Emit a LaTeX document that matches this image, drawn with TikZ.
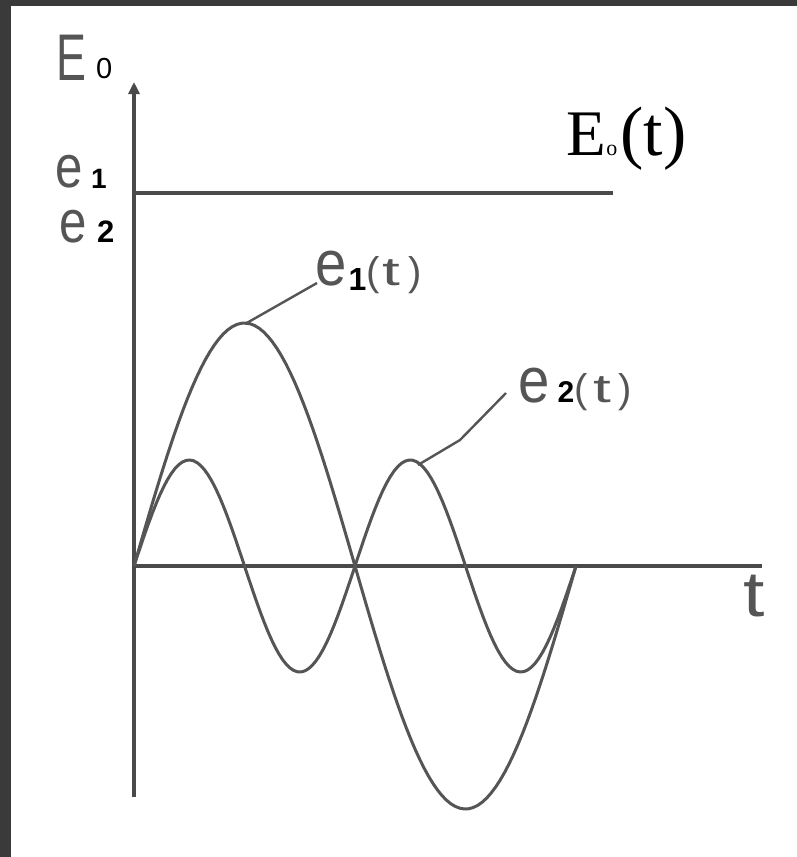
\documentclass[tikz,border=0pt]{standalone}
\usepackage{fontspec}
\usepackage{graphicx}
\setmainfont{Liberation Serif}
\newfontfamily\lsans{Liberation Sans}
\usetikzlibrary{arrows.meta}
\definecolor{frame}{HTML}{3A3A3A}
\definecolor{ink}{HTML}{4A4A4A}
\definecolor{soft}{HTML}{555555}
\begin{document}
\begin{tikzpicture}[x=1pt,y=-1pt,
  axis/.style={draw=ink,line width=3.6pt},
  wave/.style={draw=soft,line width=3pt,line join=round},
  leader/.style={draw=soft,line width=2.4pt},
  lbl/.style={inner sep=0pt,anchor=base west,text=soft,font=\lsans}]
\useasboundingbox (0,0) rectangle (797,857);
\fill[white] (0,0) rectangle (797,857);
\fill[frame] (0,0) rectangle (11,857);
\fill[frame] (0,0) rectangle (797,6);
% axes
\coordinate (O) at (134,566);
\coordinate (ytip) at (134,82);
\coordinate (ybot) at (134,797);
\coordinate (xtip) at (762,566);
\coordinate (h0) at (134,193);
\coordinate (h1) at (613,193);
\draw[axis,-{Triangle[length=12pt,width=11pt]}] (ybot) -- (ytip);
\draw[axis] (O) -- (xtip);
\draw[axis,line width=3.4pt] (h0) -- (h1);
% waves
\draw[wave] plot[domain=134:576,samples=100] (\x,{566-243*sin((\x-134)*0.81448)});
\draw[wave] plot[domain=134:576,samples=120] (\x,{566-106*sin((\x-134)*1.62896)});
% axis labels
\node[lbl] (Elab) at (56,80) {\fontsize{66}{66}\selectfont\scalebox{0.68}[1]{E}};
\node[lbl,text=black] (zero) at (96,78) {\fontsize{29}{29}\selectfont 0};
\node[lbl] (e1lab) at (55,187) {\fontsize{60}{60}\selectfont\scalebox{0.82}[1]{e}};
\node[lbl,text=black] (one) at (91,188) {\fontsize{28}{28}\selectfont\bfseries 1};
\node[lbl] (e2lab) at (59,242) {\fontsize{60}{60}\selectfont\scalebox{0.82}[1]{e}};
\node[lbl,text=black] (two) at (97,242) {\fontsize{31}{31}\selectfont\bfseries 2};
\node[lbl] (tlab) at (743,616) {\fontsize{64}{64}\selectfont\scalebox{1.2}[1]{t}};
% function labels
\node[inner sep=0pt,anchor=base west,font=\fontsize{65}{65}\selectfont] (E0t) at (566,155)
  {E\hspace{0.5pt}{\fontsize{22}{22}\selectfont o}\hspace{3pt}{\fontsize{70}{70}\selectfont(t)}};
\node[lbl] (e1t) at (315,285) {{\fontsize{64}{64}\selectfont\scalebox{0.88}[1]{e}}\hspace{2pt}{\color{black}\fontsize{32}{32}\selectfont\bfseries\raisebox{-5pt}{1}}{\fontsize{40}{40}\selectfont (\hspace{3pt}\scalebox{1.6}[1]{t}\hspace{8pt})}};
\node[lbl] (e2t) at (518,402) {{\fontsize{64}{64}\selectfont\scalebox{0.88}[1]{e}}\hspace{8pt}{\color{black}\fontsize{30}{30}\selectfont\bfseries 2}{\fontsize{40}{40}\selectfont (\hspace{6pt}\scalebox{1.6}[1]{t}\hspace{7pt})}};
% leaders
\coordinate (p1) at (245,324);
\coordinate (p2) at (418,465);
\coordinate (k2) at (460,440);
\draw[leader] (p1) -- ([shift={(2,-2)}]e1t.base west);
\draw[leader] (p2) -- (k2) -- ([shift={(-12,-9)}]e2t.base west);
\end{tikzpicture}
\end{document}
